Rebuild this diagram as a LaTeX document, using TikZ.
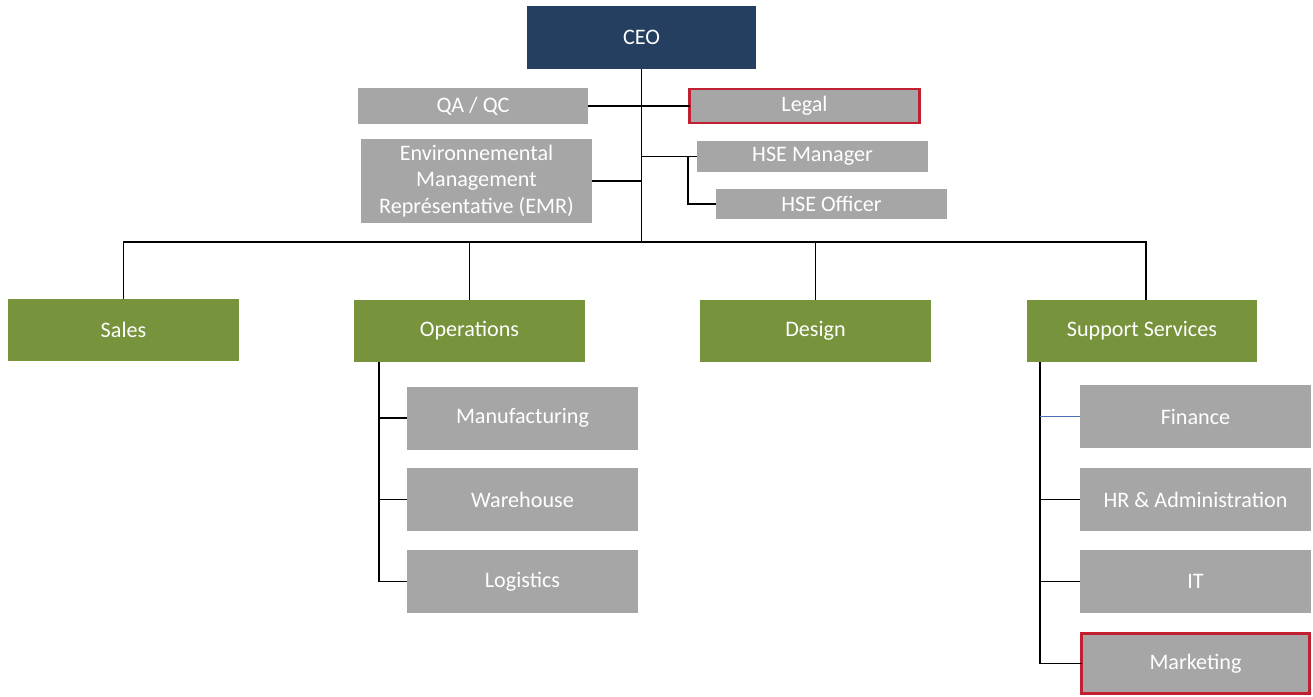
\documentclass[tikz,border=0pt]{standalone}
\usepackage{fontspec}
\setmainfont{Carlito}
\usepackage{tikz}

\definecolor{ceoblue}{HTML}{243F60}
\definecolor{deptgreen}{HTML}{77933C}
\definecolor{unitgrey}{HTML}{A6A6A6}
\definecolor{flagred}{HTML}{C0202F}
\definecolor{linkblue}{HTML}{4A74B4}

\begin{document}
\begin{tikzpicture}[x=0.02cm,y=-0.02cm,
        box/.style={rectangle,inner sep=0pt,outer sep=0pt,text=white,align=center,
            font=\fontsize{12.6}{15.3}\selectfont},
        ceobox/.style={box,fill=ceoblue,minimum width=4.58cm,minimum height=1.26cm},
        dept/.style={box,fill=deptgreen,minimum width=4.62cm,minimum height=1.24cm},
        unit/.style={box,fill=unitgrey,minimum width=4.62cm,minimum height=1.26cm},
        staff/.style={box,fill=unitgrey,minimum width=4.62cm},
        flagged/.style={draw=flagred,line width=1.6pt},
        link/.style={line width=0.7pt}]
    \useasboundingbox (0,0) rectangle (1313,697);

    % top of the chart
    \node[ceobox] (ceo) at (641.5,37.5) {CEO};
    \node[staff,minimum height=0.72cm] (qa) at (473,106) {QA / QC};
    \node[staff,flagged,minimum width=4.6cm,minimum height=0.68cm] (legal) at (804.5,106) {Legal};
    \node[staff,minimum height=1.68cm] (emr) at (476.5,181)
        {Environnemental\\Management\\Représentative (EMR)};
    \node[staff,minimum height=0.62cm] (hsem) at (812.5,156.5) {HSE Manager};
    \node[staff,minimum height=0.60cm] (hseo) at (831.5,204) {HSE Officer};

    % departments
    \node[dept] (sales) at (123.5,329.5) {Sales};
    \node[dept] (ops) at (469.5,331) {Operations};
    \node[dept] (design) at (815.5,331) {Design};
    \node[dept] (support) at (1142,331) {Support Services};

    % operations units
    \node[unit] (manu) at (522.5,418) {Manufacturing};
    \node[unit] (wh) at (522.5,499.5) {Warehouse};
    \node[unit] (logi) at (522.5,581.5) {Logistics};

    % support units
    \node[unit] (fin) at (1195.5,416.5) {Finance};
    \node[unit] (hr) at (1195.5,499.5) {HR \& Administration};
    \node[unit] (it) at (1195.5,581.5) {IT};
    \node[unit,flagged,minimum width=4.56cm,minimum height=1.2cm] (mkt) at (1195.5,663.5) {Marketing};

    \coordinate (bus) at (641.5,242);
    \coordinate (hsejoin) at (688,156.5);
    \coordinate (opsline) at (379,362);
    \coordinate (supline) at (1040,362);

    % reporting lines
    \draw[link] (ceo.south) -- (bus);
    \draw[link] (qa.east) -- (legal.west);
    \draw[link] (emr.east) -- (emr.east -| ceo.south);
    \draw[link] (hsem.west) -- (hsem.west -| ceo.south);
    \draw[link] (hsejoin) |- (hseo.west);
    \draw[link] (sales.north) |- (bus) -| ([xshift=0.08cm]support.north);
    \draw[link] (ops.north) -- (ops.north |- bus);
    \draw[link] (design.north) -- (design.north |- bus);

    \draw[link] (opsline) |- (logi.west);
    \draw[link] (opsline |- manu.west) -- (manu.west);
    \draw[link] (opsline |- wh.west) -- (wh.west);

    \draw[link] (supline) |- (mkt.west);
    \draw[linkblue,line width=0.4pt] (supline |- fin.west) -- (fin.west);
    \draw[link] (supline |- hr.west) -- (hr.west);
    \draw[link] (supline |- it.west) -- (it.west);
\end{tikzpicture}
\end{document}
